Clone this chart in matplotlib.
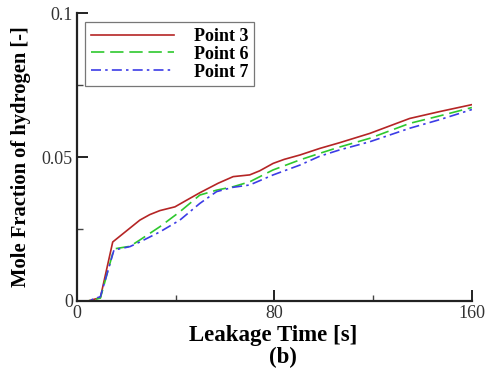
import matplotlib
matplotlib.use("Agg")
import matplotlib.pyplot as plt
from matplotlib.ticker import MultipleLocator

# Leakage time [s] and hydrogen mole fraction at three monitoring points
t_p3 = [0, 4.5, 9.5, 14.5, 20, 25.5, 29.5, 33.6, 39.7, 44, 49.8, 57.2, 63.3, 70, 74,
        79.5, 84, 90.3, 98.4, 106.5, 118.6, 134.8, 147, 160]
y_p3 = [0, 0, 0.0012, 0.0205, 0.0243, 0.0281, 0.0300, 0.0314, 0.0327, 0.0348, 0.0376,
        0.0409, 0.0432, 0.0438, 0.0452, 0.0478, 0.0492, 0.0507, 0.0530, 0.0550, 0.0582,
        0.0634, 0.0658, 0.0682]

t_p6 = [0, 4.5, 9.5, 15.0, 21.5, 25.5, 33.6, 41.7, 49.8, 56.6, 63.3, 70, 79.4, 90.3,
        98.4, 106.5, 118.6, 134.8, 147, 160]
y_p6 = [0, 0, 0.0010, 0.0181, 0.0190, 0.0212, 0.0258, 0.0310, 0.0368, 0.0385, 0.0397,
        0.0414, 0.0455, 0.0490, 0.0513, 0.0535, 0.0565, 0.0617, 0.0643, 0.0672]

t_p7 = [0, 4.5, 9.5, 15.0, 21.5, 25.5, 33.6, 41.7, 49.8, 56.6, 63.3, 70, 79.5, 90.3,
        98.4, 106.5, 118.6, 134.8, 147, 160]
y_p7 = [0, 0, 0.0015, 0.0177, 0.0189, 0.0205, 0.0240, 0.0281, 0.0339, 0.0380, 0.0395,
        0.0403, 0.0438, 0.0472, 0.0503, 0.0525, 0.0553, 0.0600, 0.0630, 0.0665]

labels = ["Point 3", "Point 6", "Point 7"]
x_ticks = [0, 80, 160]
y_ticks = [0, 0.05, 0.1]
y_tick_labels = ["0", "0.05", "0.1"]

serif = ["Liberation Serif", "DejaVu Serif"]
plt.rcParams["font.family"] = serif

fig = plt.figure(figsize=(4.9, 3.71), dpi=100)
ax = fig.add_axes([0.157, 0.1887, 0.806, 0.776])

ax.plot(t_p3, y_p3, color="#b52525", lw=1.2, label=labels[0])
ax.plot(t_p6, y_p6, color="#2ec82e", lw=1.2, dashes=(8, 3.5), label=labels[1])
ax.plot(t_p7, y_p7, color="#3c3ce6", lw=1.2, dashes=(6, 2.5, 1.5, 2.5), label=labels[2])

ax.set_xlim(0, 160)
ax.set_ylim(0, 0.1)
ax.set_xticks(x_ticks)
ax.set_yticks(y_ticks)
ax.set_yticklabels(y_tick_labels)
ax.xaxis.set_minor_locator(MultipleLocator(40))
ax.yaxis.set_minor_locator(MultipleLocator(0.025))

for side in ("top", "right"):
    ax.spines[side].set_visible(False)
for side in ("left", "bottom"):
    ax.spines[side].set_linewidth(1.6)
    ax.spines[side].set_color("#222222")

ax.tick_params(which="major", direction="in", length=8, width=1.4, labelsize=13,
               colors="#222222", labelcolor="#333333", pad=3)
ax.tick_params(which="minor", direction="in", length=4, width=1.0, colors="#444444")

ax.set_xlabel("Leakage Time [s]", fontsize=16.5, fontweight="bold")
ax.xaxis.set_label_coords(0.497, -0.082)
ax.set_ylabel("Mole Fraction of hydrogen [-]", fontsize=14.8, fontweight="bold")
ax.yaxis.set_label_coords(-0.116, 0.5)

leg = ax.legend(loc="upper left", bbox_to_anchor=(0.012, 0.98), handlelength=4.6,
                prop={"family": serif, "weight": "bold", "size": 13},
                frameon=True, fancybox=False, borderpad=0.3, labelspacing=0.05,
                handletextpad=1.1, borderaxespad=0.2)
leg.get_frame().set_edgecolor("#555555")
leg.get_frame().set_linewidth(0.9)

fig.text(0.578, 0.036, "(b)", ha="center", va="center", fontsize=16.5, fontweight="bold")

fig.savefig("out.png", dpi=100)
